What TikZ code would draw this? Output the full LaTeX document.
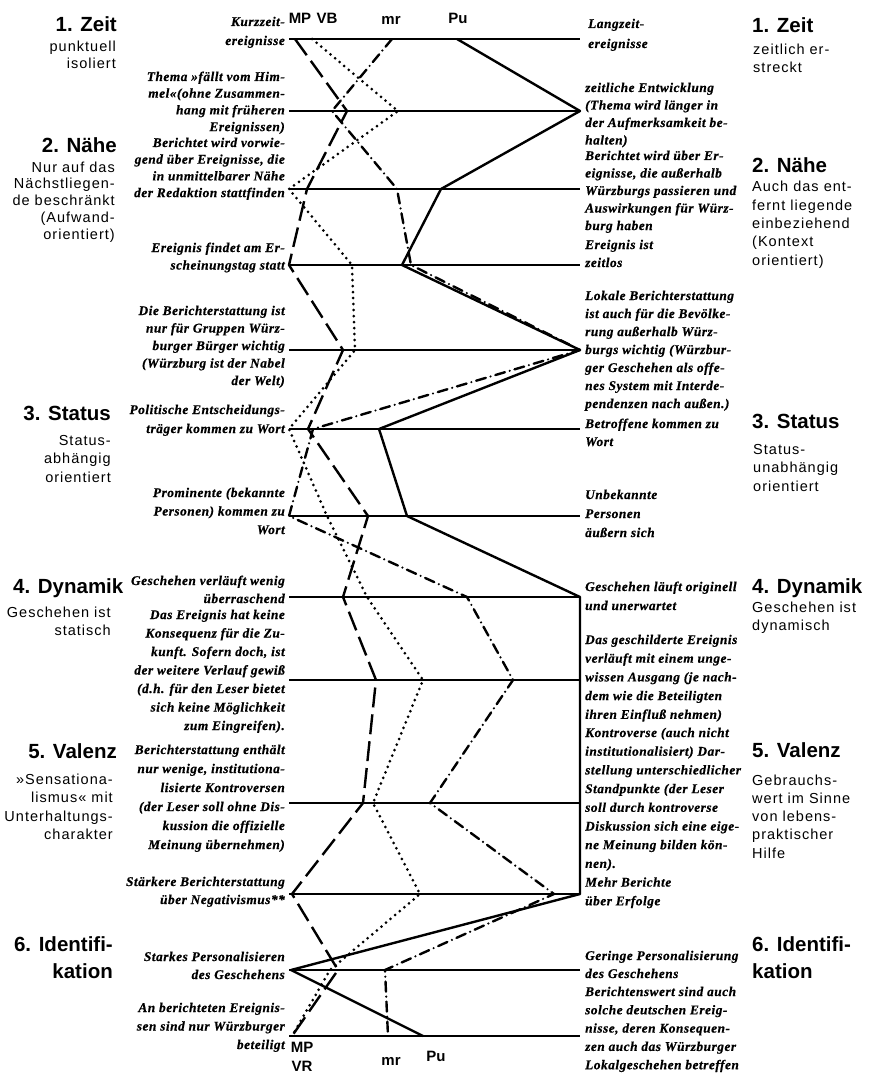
\documentclass[tikz,border=0pt]{standalone}
\usepackage{fontspec}
\setmainfont{Liberation Serif}
\newfontfamily\itfont[LetterSpace=4, FakeBold=0.6]{Liberation Serif}
\newfontfamily\dsfont[LetterSpace=7]{Liberation Sans}
\newfontfamily\hdfont{Liberation Sans}
% one text block, one node per printed line
\newcommand\tblock[7]{%
  \foreach \lineT [count=\kk] in {#7} {%
    \node[#2, anchor=#3, name=#1-\kk] at (#4, {#5+(\kk-1)*#6}) {\lineT};
  }}
% named vertices of one profile, one per scale row
\newcommand\profile[2]{%
  \foreach \xx [count=\kk] in {#2} {%
    \pgfmathsetmacro\yy{{39,111,189,265,350,429,516,597,680,803,894,970,1036}[\kk-1]}%
    \coordinate (#1\kk) at (\xx,\yy);
  }}
\begin{document}
\begin{tikzpicture}[x=1pt,y=-1pt,
  it/.style={font=\itfont\bfseries\itshape\fontsize{13.3}{16}\selectfont, inner sep=0pt},
  ds/.style={font=\dsfont\fontsize{14.5}{17}\selectfont, inner sep=0pt},
  hd/.style={font=\hdfont\bfseries\fontsize{20.5}{24}\selectfont, inner sep=0pt},
  hw/.style={font=\hdfont\bfseries\fontsize{15}{18}\selectfont, inner sep=0pt},
  rowline/.style={line width=1.4pt},
  pu/.style={line width=2.4pt, line join=round},
  mp/.style={line width=2.4pt, dash pattern=on 20pt off 7pt, line join=round},
  vb/.style={line width=3pt, dash pattern=on 0pt off 6pt, line cap=round},
  mr/.style={line width=2.4pt, dash pattern=on 10pt off 5pt on 0pt off 5pt, line cap=round, line join=round}
]
\fill[white] (0,0) rectangle (870,1078);
\useasboundingbox (0,0) rectangle (870,1078);

% scale rows
\foreach \yr [count=\kk] in {39,111,189,265,350,429,516,597,680,803,894,970,1036} {
  \coordinate (rl\kk) at (289,\yr);
  \coordinate (rr\kk) at (580,\yr);
  \draw[rowline] (rl\kk) -- (rr\kk);
}

% profiles
\profile{pu}{457,580,441,402,580,379,407,580,580,580,580,291,423}
\profile{mp}{295,347,307,289,343,308,368,343,376,363,292,338,292}
\profile{vb}{312,398,289,352,355,289,327,367,423,373,420,330,292}
\profile{mr}{392,332,397,411,580,313,289,467,513,430,554,385,388}
\draw[pu] (pu1) \foreach \kk in {2,...,13} { -- (pu\kk) };
\draw[mp] (mp1) \foreach \kk in {2,...,13} { -- (mp\kk) };
\draw[vb] (vb1) \foreach \kk in {2,...,13} { -- (vb\kk) };
\draw[mr] (mr1) \foreach \kk in {2,...,13} { -- (mr\kk) };

% handwritten labels
\node[hw] (tMP) at (300,18) {MP};
\node[hw] (tVB) at (327,18) {VB};
\node[hw] (tmr) at (391,20) {mr};
\node[hw] (tPu) at (458,18) {Pu};
\node[hw] (bMP) at (302,1047) {MP};
\node[hw] (bVR) at (302,1066) {VR};
\node[hw] (bmr) at (391,1061) {mr};
\node[hw] (bPu) at (436,1056) {Pu};

% left pole texts
\tblock{lm1}{it}{base east}{285}{26}{19}{{Kurzzeit-},{ereignisse}}
\tblock{lm2}{it}{base east}{285}{81}{16.7}{{Thema »fällt vom Him-},{mel«(ohne Zusammen-},{hang mit früheren},{Ereignissen)}}
\tblock{lm3}{it}{base east}{285}{147}{16.7}{{Berichtet wird vorwie-},{gend über Ereignisse, die},{in unmittelbarer Nähe},{der Redaktion stattfinden}}
\tblock{lm4}{it}{base east}{285}{252}{17.5}{{Ereignis findet am Er-},{scheinungstag statt}}
\tblock{lm5}{it}{base east}{285}{315}{17.5}{{Die Berichterstattung ist},{nur für Gruppen Würz-},{burger Bürger wichtig},{(Würzburg ist der Nabel},{der Welt)}}
\tblock{lm6}{it}{base east}{285}{414}{19}{{Politische Entscheidungs-},{träger kommen zu Wort}}
\tblock{lm7}{it}{base east}{285}{497}{18.5}{{Prominente (bekannte},{Personen) kommen zu},{Wort}}
\tblock{lm8}{it}{base east}{285}{585}{18}{{Geschehen verläuft wenig},{überraschend}}
\tblock{lm9}{it}{base east}{285}{619}{18.5}{{Das Ereignis hat keine},{Konsequenz für die Zu-},{kunft. Sofern doch, ist},{der weitere Verlauf gewiß},{(d.h. für den Leser bietet},{sich keine Möglichkeit},{zum Eingreifen).}}
\tblock{lm10}{it}{base east}{285}{754}{19}{{Berichterstattung enthält},{nur wenige, institutiona-},{lisierte Kontroversen},{(der Leser soll ohne Dis-},{kussion die offizielle},{Meinung übernehmen)}}
\tblock{lm11}{it}{base east}{285}{886}{18}{{Stärkere Berichterstattung},{über Negativismus**}}
\tblock{lm12}{it}{base east}{285}{961}{18}{{Starkes Personalisieren},{des Geschehens}}
\tblock{lm13}{it}{base east}{285}{1012}{18.5}{{An berichteten Ereignis-},{sen sind nur Würzburger},{beteiligt}}

% right pole texts
\tblock{rm1}{it}{base west}{588}{28}{20}{{Langzeit-},{ereignisse}}
\tblock{rm2}{it}{base west}{585}{92}{17.5}{{zeitliche Entwicklung},{(Thema wird länger in},{der Aufmerksamkeit be-},{halten)}}
\tblock{rm3}{it}{base west}{585}{160}{17.5}{{Berichtet wird über Er-},{eignisse, die außerhalb},{Würzburgs passieren und},{Auswirkungen für Würz-},{burg haben}}
\tblock{rm4}{it}{base west}{585}{249}{18}{{Ereignis ist},{zeitlos}}
\tblock{rm5}{it}{base west}{585}{300}{18}{{Lokale Berichterstattung},{ist auch für die Bevölke-},{rung außerhalb Würz-},{burgs wichtig (Würzbur-},{ger Geschehen als offe-},{nes System mit Interde-},{pendenzen nach außen.)}}
\tblock{rm6}{it}{base west}{585}{428}{18}{{Betroffene kommen zu},{Wort}}
\tblock{rm7}{it}{base west}{585}{499}{19}{{Unbekannte},{Personen},{äußern sich}}
\tblock{rm8}{it}{base west}{585}{591}{19}{{Geschehen läuft originell},{und unerwartet}}
\tblock{rm9}{it}{base west}{585}{644}{18.7}{{Das geschilderte Ereignis},{verläuft mit einem unge-},{wissen Ausgang (je nach-},{dem wie die Beteiligten},{ihren Einfluß nehmen)}}
\tblock{rm10}{it}{base west}{585}{737}{18.7}{{Kontroverse (auch nicht},{institutionalisiert) Dar-},{stellung unterschiedlicher},{Standpunkte (der Leser},{soll durch kontroverse},{Diskussion sich eine eige-},{ne Meinung bilden kön-},{nen).}}
\tblock{rm11}{it}{base west}{585}{886.6}{18.7}{{Mehr Berichte},{über Erfolge}}
\tblock{rm12}{it}{base west}{585}{960}{18}{{Geringe Personalisierung},{des Geschehens}}
\tblock{rm13}{it}{base west}{585}{996}{18.3}{{Berichtenswert sind auch},{solche deutschen Ereig-},{nisse, deren Konsequen-},{zen auch das Würzburger},{Lokalgeschehen betreffen}}

% left headings
\node[hd, anchor=base east] (lh1) at (117,32) {1. Zeit};
\tblock{ld1}{ds}{base east}{116}{52}{17}{{punktuell},{isoliert}}
\node[hd, anchor=base east] (lh2) at (117,153) {2. Nähe};
\tblock{ld2}{ds}{base east}{115}{172}{16.8}{{Nur auf das},{Nächstliegen-},{de beschränkt},{(Aufwand-},{orientiert)}}
\node[hd, anchor=base east] (lh3) at (111,420) {3. Status};
\tblock{ld3}{ds}{base east}{111}{445}{18.5}{{Status-},{abhängig},{orientiert}}
\node[hd, anchor=base west] (lh4) at (13,593) {4. Dynamik};
\tblock{ld4}{ds}{base east}{111}{617}{18.5}{{Geschehen ist},{statisch}}
\node[hd, anchor=base east] (lh5) at (117,758) {5. Valenz};
\tblock{ld5}{ds}{base east}{113}{784}{18.5}{{»Sensationa-},{lismus« mit},{Unterhaltungs-},{charakter}}
\tblock{lh6}{hd}{base east}{113}{951}{27}{{6. Identifi-},{kation}}

% right headings
\node[hd, anchor=base west] (rh1) at (752,33) {1. Zeit};
\tblock{rd1}{ds}{base west}{753}{55}{17.5}{{zeitlich er-},{streckt}}
\node[hd, anchor=base west] (rh2) at (752,172) {2. Nähe};
\tblock{rd2}{ds}{base west}{752}{192}{18.3}{{Auch das ent-},{fernt liegende},{einbeziehend},{(Kontext},{orientiert)}}
\node[hd, anchor=base west] (rh3) at (752,428) {3. Status};
\tblock{rd3}{ds}{base west}{753}{454}{18.5}{{Status-},{unabhängig},{orientiert}}
\node[hd, anchor=base west] (rh4) at (752,593) {4. Dynamik};
\tblock{rd4}{ds}{base west}{752}{612}{18}{{Geschehen ist},{dynamisch}}
\node[hd, anchor=base west] (rh5) at (752,757) {5. Valenz};
\tblock{rd5}{ds}{base west}{752}{785}{18.3}{{Gebrauchs-},{wert im Sinne},{von lebens-},{praktischer},{Hilfe}}
\tblock{rh6}{hd}{base west}{752}{951}{27}{{6. Identifi-},{kation}}
\end{tikzpicture}
\end{document}
